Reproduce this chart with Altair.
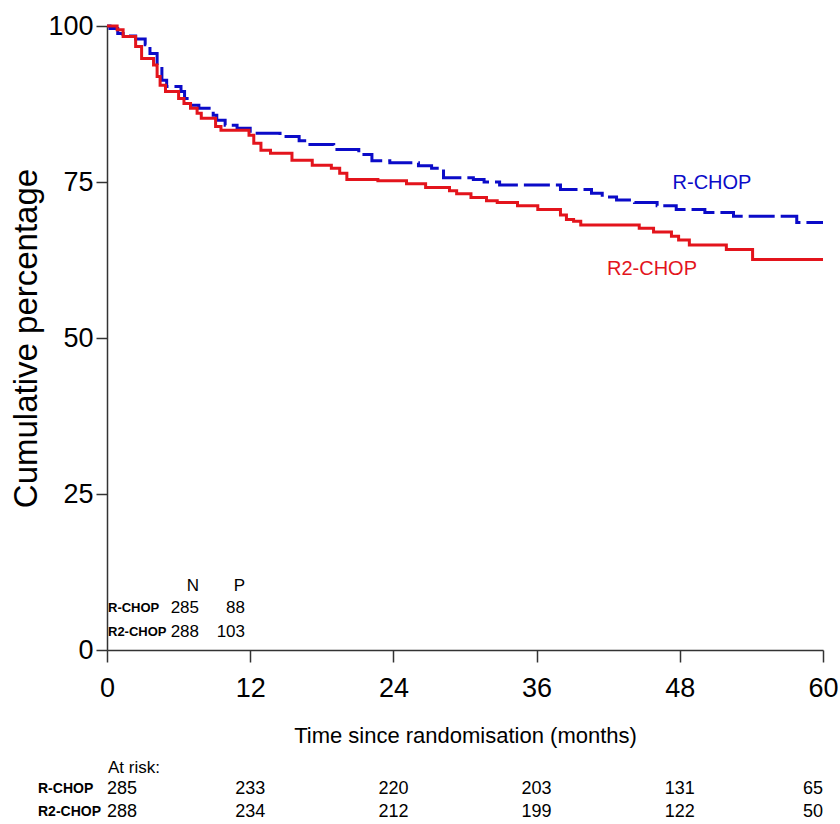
import altair as alt
import pandas as pd

# Kaplan-Meier step curves: month of each step and percentage after it
rchop_month = [0, 0.25, 0.9, 1.35, 2.4, 3.2, 3.6, 4.2, 4.6, 5.0, 6.2, 6.5, 7.0, 7.7,
               8.9, 9.2, 9.9, 10.9, 12.0, 14.5, 16.1, 16.8, 19.0, 21.1, 22.2, 23.7,
               26.1, 27.2, 28.2, 30.7, 31.6, 32.9, 38.0, 40.6, 41.5, 42.7, 44.2,
               46.1, 47.7, 50.1, 52.5, 57.8, 60]
rchop_pct = [100, 99.6, 98.8, 98.4, 97.9, 97.0, 95.6, 93.75, 91.3, 90.3, 89.5, 88.4,
             87.3, 86.8, 85.7, 84.9, 84.1, 83.6, 82.8, 82.3, 81.6, 81.0, 80.2, 79.4,
             78.4, 78.1, 77.6, 77.2, 75.7, 75.4, 75.0, 74.5, 73.8, 73.2, 72.6, 72.1,
             71.7, 71.2, 70.6, 70.1, 69.5, 68.5, 68.5]

r2chop_month = [0, 0.85, 1.35, 2.4, 2.9, 3.9, 4.2, 4.45, 4.9, 6.0, 6.45, 7.0, 7.55,
                7.9, 9.1, 9.55, 11.9, 12.3, 12.9, 13.7, 15.5, 17.2, 18.8, 19.5, 20.1,
                22.7, 25.1, 26.7, 28.7, 29.3, 30.5, 31.8, 32.7, 34.4, 36.1, 38.0, 38.5,
                39.1, 39.7, 44.6, 45.8, 47.3, 47.9, 48.8, 51.9, 54.1, 60]
r2chop_pct = [100, 99.4, 98.3, 96.7, 94.8, 93.75, 91.9, 90.5, 89.5, 88.4, 87.6, 86.8,
              86.0, 85.2, 83.9, 83.3, 82.5, 81.2, 80.1, 79.6, 78.5, 77.7, 77.2, 76.4,
              75.4, 75.2, 74.7, 74.1, 73.6, 73.1, 72.5, 72.0, 71.7, 71.2, 70.6, 69.7,
              69.0, 68.7, 68.1, 67.6, 67.0, 66.3, 65.7, 64.9, 64.2, 62.6, 62.6]

# Summary table (patients and events) and numbers at risk
arms = ["R-CHOP", "R2-CHOP"]
n_patients = [285, 288]
n_events = [88, 103]
risk_months = [0, 12, 24, 36, 48, 60]
at_risk_rchop = [285, 233, 220, 203, 131, 65]
at_risk_r2chop = [288, 234, 212, 199, 122, 50]

BLUE = "#0b0bc8"
RED = "#e3141c"
FONT = "'Liberation Sans', Arial, sans-serif"

curves = pd.concat([
    pd.DataFrame({"month": rchop_month, "pct": rchop_pct, "arm": "R-CHOP"}),
    pd.DataFrame({"month": r2chop_month, "pct": r2chop_pct, "arm": "R2-CHOP"}),
])

x_scale = alt.Scale(domain=[0, 60], nice=False, zero=False)
y_scale = alt.Scale(domain=[0, 100], nice=False)

x_enc = alt.X("month:Q", scale=x_scale,
              axis=alt.Axis(values=risk_months, title="Time since randomisation (months)",
                            grid=False, tickSize=12, labelPadding=13, titlePadding=24,
                            labelFontSize=27, titleFontSize=22, labelFlush=False,
                            labelFont=FONT, titleFont=FONT))
y_enc = alt.Y("pct:Q", scale=y_scale,
              axis=alt.Axis(values=[0, 25, 50, 75, 100], title="Cumulative percentage",
                            grid=False, tickSize=11, labelPadding=3, titlePadding=4,
                            labelFontSize=27, titleFontSize=33, labelFlush=False,
                            labelFont=FONT, titleFont=FONT))

base = alt.Chart(curves)

blue_line = base.transform_filter(alt.datum.arm == "R-CHOP").mark_line(
    interpolate="step-after", color=BLUE, strokeWidth=3, strokeDash=[26, 6]
).encode(x=x_enc, y=y_enc)

red_line = base.transform_filter(alt.datum.arm == "R2-CHOP").mark_line(
    interpolate="step-after", color=RED, strokeWidth=3
).encode(x=x_enc, y=y_enc)

# Curve labels
curve_labels = alt.Chart(pd.DataFrame({"arm": arms, "col": [BLUE, RED],
                                       "px": [605, 545], "py": [157, 243]})).mark_text(
    font=FONT, fontSize=20, align="center", baseline="middle"
).encode(x=alt.X("px:Q", scale=None), y=alt.Y("py:Q", scale=None),
         text="arm:N", color=alt.Color("col:N", scale=None))

# N / P summary table
summary = pd.DataFrame({"arm": arms, "n": n_patients, "p": n_events, "py": [582, 606]})
sum_head = alt.Chart(pd.DataFrame({"h": ["N", "P"], "px": [92, 138]})).mark_text(
    font=FONT, fontSize=17, align="right", baseline="middle", color="black"
).encode(x=alt.X("px:Q", scale=None), y=alt.value(560), text="h:N")
sum_arm = alt.Chart(summary).mark_text(
    font=FONT, fontSize=13, fontWeight="bold", align="left", baseline="middle", color="black"
).encode(x=alt.value(1), y=alt.Y("py:Q", scale=None), text="arm:N")
sum_n = alt.Chart(summary).mark_text(
    font=FONT, fontSize=17, align="right", baseline="middle", color="black"
).encode(x=alt.value(92), y=alt.Y("py:Q", scale=None), text="n:Q")
sum_p = alt.Chart(summary).mark_text(
    font=FONT, fontSize=17, align="right", baseline="middle", color="black"
).encode(x=alt.value(138), y=alt.Y("py:Q", scale=None), text="p:Q")

# Numbers at risk below the x axis
risk = pd.concat([
    pd.DataFrame({"month": risk_months, "n": at_risk_rchop, "py": 763}),
    pd.DataFrame({"month": risk_months, "n": at_risk_r2chop, "py": 786}),
])
risk_x = alt.X("month:Q", scale=x_scale)
risk_layers = []
for cond, al in [(alt.datum.month == 0, "left"),
                 ((alt.datum.month > 0) & (alt.datum.month < 60), "center"),
                 (alt.datum.month == 60, "right")]:
    risk_layers.append(
        alt.Chart(risk).transform_filter(cond).mark_text(
            font=FONT, fontSize=18, align=al, baseline="middle", color="black"
        ).encode(x=risk_x, y=alt.Y("py:Q", scale=None), text="n:Q")
    )
risk_head = alt.Chart(pd.DataFrame({"t": ["At risk:"]})).mark_text(
    font=FONT, fontSize=17, align="left", baseline="middle", color="black"
).encode(x=alt.value(1), y=alt.value(742), text="t:N")
risk_arm = alt.Chart(pd.DataFrame({"arm": arms, "py": [763, 786]})).mark_text(
    font=FONT, fontSize=14, fontWeight="bold", align="left", baseline="middle", color="black"
).encode(x=alt.value(-69), y=alt.Y("py:Q", scale=None), text="arm:N")

chart = alt.layer(
    blue_line, red_line, curve_labels, sum_head, sum_arm, sum_n, sum_p,
    *risk_layers, risk_head, risk_arm
).properties(
    width=716, height=624,
    padding={"left": 107, "top": 26, "right": 17, "bottom": 174},
    autosize="none",
    background="white",
).configure_view(
    stroke=None
).configure_axis(
    domainColor="#333333", tickColor="#333333", domainWidth=1.5, tickWidth=1.5,
    labelColor="black", titleColor="black", labelFontWeight="normal", titleFontWeight="normal"
)

chart.save("out.html", embed_options={"renderer": "svg", "actions": False})
